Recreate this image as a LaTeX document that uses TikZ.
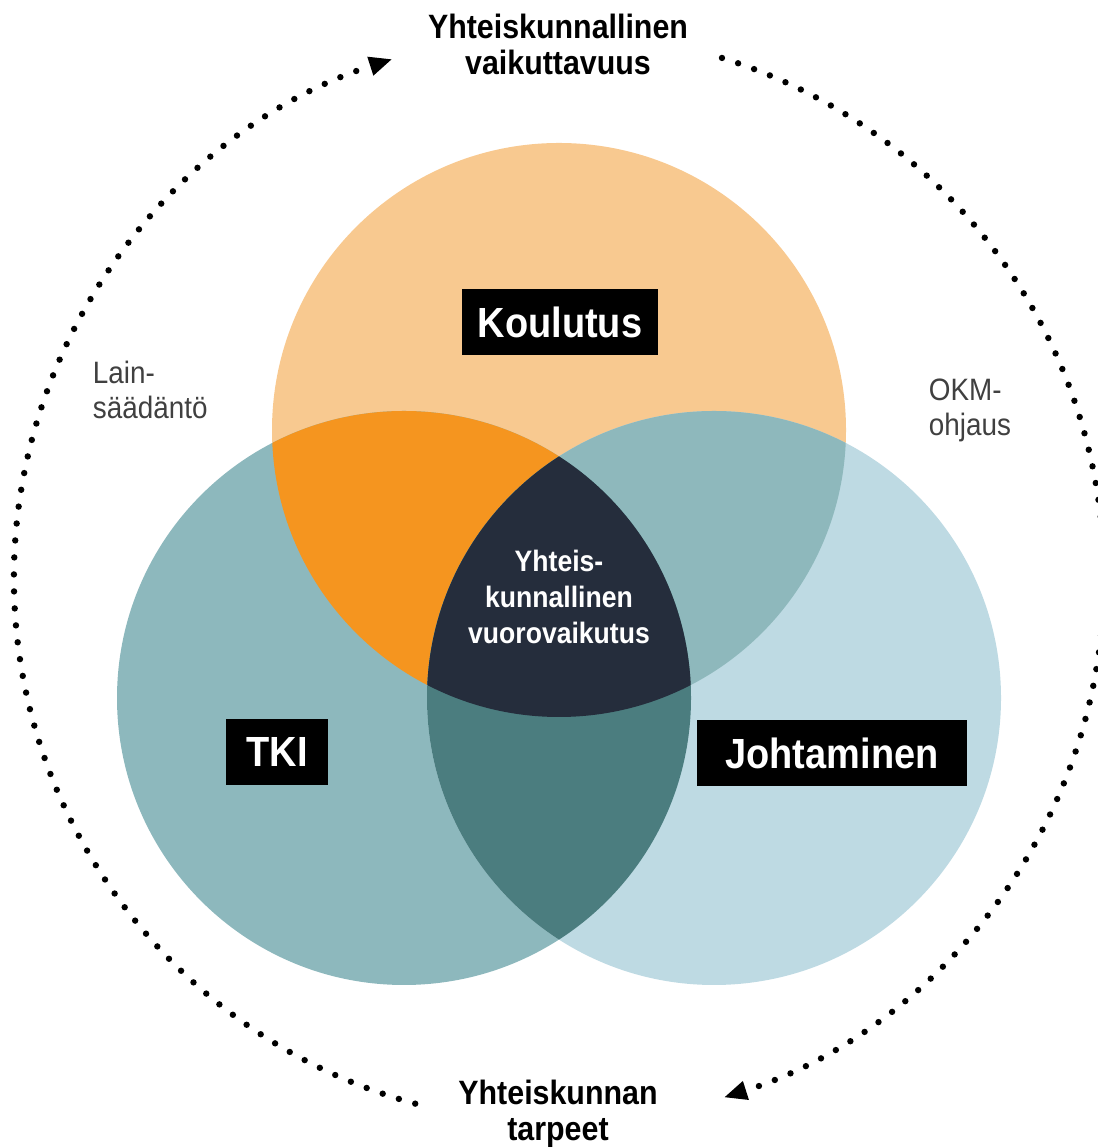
\documentclass[tikz,border=0pt]{standalone}
\usepackage{fontspec}
\setmainfont{Liberation Sans}[FakeStretch=0.9]
\usetikzlibrary{arrows.meta}
\definecolor{koulc}{HTML}{F8C990}
\definecolor{tkic}{HTML}{8DB8BD}
\definecolor{johtc}{HTML}{BEDAE3}
\definecolor{koultki}{HTML}{F5951F}
\definecolor{kouljoht}{HTML}{8EB8BC}
\definecolor{tkijoht}{HTML}{4B7D7F}
\definecolor{corec}{HTML}{252D3C}
\tikzstyle{title} = [font=\bfseries\fontsize{24}{25.6}\selectfont, align=center]
\tikzstyle{tag} = [fill=black, text=white, font=\bfseries\fontsize{30}{36}\selectfont, inner xsep=0.2cm, minimum height=1.65cm]
\tikzstyle{side} = [text=black!75, font=\fontsize{22}{24.8}\selectfont, align=left, anchor=west]
\tikzstyle{cycle} = [line width=0.16cm, line cap=round, dash pattern=on 0pt off 0.425cm, ->]
\tikzset{>={Triangle[length=0.58cm, width=0.45cm]}}

\begin{document}
\begin{tikzpicture}[x=0.025cm, y=0.025cm]
  \useasboundingbox (0,0) rectangle (1097,1148);
  % Centres
  \coordinate (koul) at (559,718);
  \coordinate (tki) at (404,450);
  \coordinate (joht) at (714,450);
  \coordinate (mid) at (559,570);
  % Circles
  \fill[koulc] (koul) circle (287);
  \fill[tkic] (tki) circle (287);
  \fill[johtc] (joht) circle (287);
  % Overlaps
  \begin{scope}
    \clip (koul) circle (287);
    \fill[koultki] (tki) circle (287);
    \fill[kouljoht] (joht) circle (287);
  \end{scope}
  \begin{scope}
    \clip (tki) circle (287);
    \fill[tkijoht] (joht) circle (287);
    \clip (koul) circle (287);
    \fill[corec] (joht) circle (287);
  \end{scope}
  % Labels
  \node[tag, minimum width=4.9cm] (koulutus) at (560,826) {Koulutus};
  \node[tag, minimum width=2.55cm] (tkilabel) at (277,396) {TKI};
  \node[tag, minimum width=6.75cm] (johtaminen) at (832,395) {Johtaminen};
  \node[title, text=white, font=\bfseries\fontsize{21}{25.6}\selectfont] (core) at (559,551) {Yhteis-\\kunnallinen\\vuorovaikutus};
  \node[title] (vaik) at (558,1104) {Yhteiskunnallinen\\vaikuttavuus};
  \node[title] (tarpeet) at (558,34) {Yhteiskunnan\\tarpeet};
  \node[side] (laki) at (88,758) {Lain-\\säädäntö};
  \node[side] (okm) at (924,738) {OKM-\\ohjaus};
  % Dotted cycle
  \draw[cycle] (mid) ++(254.7:545) arc[start angle=254.7, end angle=107.8, radius=545];
  \draw[cycle] (mid) ++(72.6:545) arc[start angle=72.6, end angle=-72.4, radius=545];
\end{tikzpicture}
\end{document}
